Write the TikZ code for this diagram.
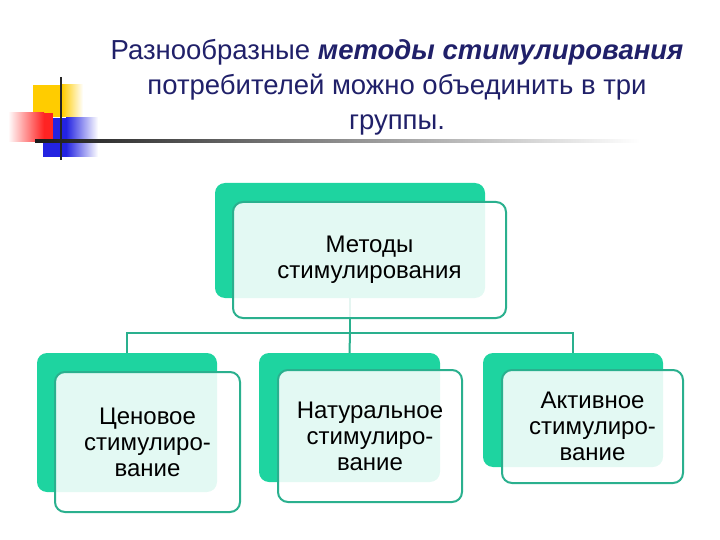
\documentclass[tikz,border=0pt]{standalone}
\usepackage{fontspec}
\setmainfont{Liberation Sans}
\usetikzlibrary{positioning}
\definecolor{navy}{RGB}{32,32,105}
\definecolor{mint}{RGB}{30,212,160}
\definecolor{tealln}{RGB}{42,176,142}
\definecolor{lgyel}{RGB}{255,204,0}
\definecolor{lgred}{RGB}{255,35,35}
\definecolor{lgblu}{RGB}{35,35,225}
\tikzset{
  backbox/.style ={fill=mint, rounded corners=10pt, inner sep=0pt},
  frontbox/.style={draw=tealln, line width=2pt, fill=white, fill opacity=0.88,
                   text opacity=1, rounded corners=10pt, align=center,
                   font=\fontsize{24}{26}\selectfont},
  conn/.style    ={draw=tealln, line width=2pt},
  ttl/.style     ={text=navy, align=center, font=\fontsize{27.5}{35}\selectfont},
}
\begin{document}
\begin{tikzpicture}[x=1pt,y=-1pt]
\useasboundingbox (0,0) rectangle (720,540);
\fill[lgyel] (33,85) rectangle (62,117);
\shade[left color=lgyel, right color=white] (62,85) rectangle (83,117);
\fill[lgblu] (43,118) rectangle (66,157);
\shade[left color=lgblu, right color=white] (66,118) rectangle (98,157);
\shade[left color=white, right color=lgred] (8,113) rectangle (44,142);
\fill[lgred] (44,113) rectangle (53,142);
\draw[black!85, line width=2.5pt] (61,77) -- (61,160);
\shade[left color=black!90, middle color=black!45, right color=white] (35,140) rectangle (640,142.5);
\node[ttl] (title) at (397,87) {Разнообразные \textbf{\textit{методы стимулирования}}\\
  потребителей можно объединить в три\\ группы.};
\node[backbox, minimum width=270pt, minimum height=115pt] (mback) at (350,240.5) {};
\node[backbox, minimum width=180pt, minimum height=139pt] (pback) at (127,422.5) {};
\node[backbox, minimum width=181pt, minimum height=129pt] (nback) at (349.5,417.5) {};
\node[backbox, minimum width=180pt, minimum height=114pt] (aback) at (573,410) {};
\coordinate (bus) at (350,333);
\draw[conn] (mback.south) -- (bus);
\draw[conn] (pback.north) |- (bus) -| (aback.north);
\draw[conn] (bus) -- (nback.north);
\node[frontbox, minimum width=273pt, minimum height=116pt] (mfront) at (369.5,260) {Методы\\ стимулирования};
\node[frontbox, minimum width=185pt, minimum height=140pt] (pfront) at (147.5,442) {Ценовое\\ стимулиро-\\ вание};
\node[frontbox, minimum width=184pt, minimum height=132pt] (nfront) at (370,436) {Натуральное\\ стимулиро-\\ вание};
\node[frontbox, minimum width=181pt, minimum height=113pt] (afront) at (592.5,426.5) {Активное\\ стимулиро-\\ вание};
\end{tikzpicture}
\end{document}
